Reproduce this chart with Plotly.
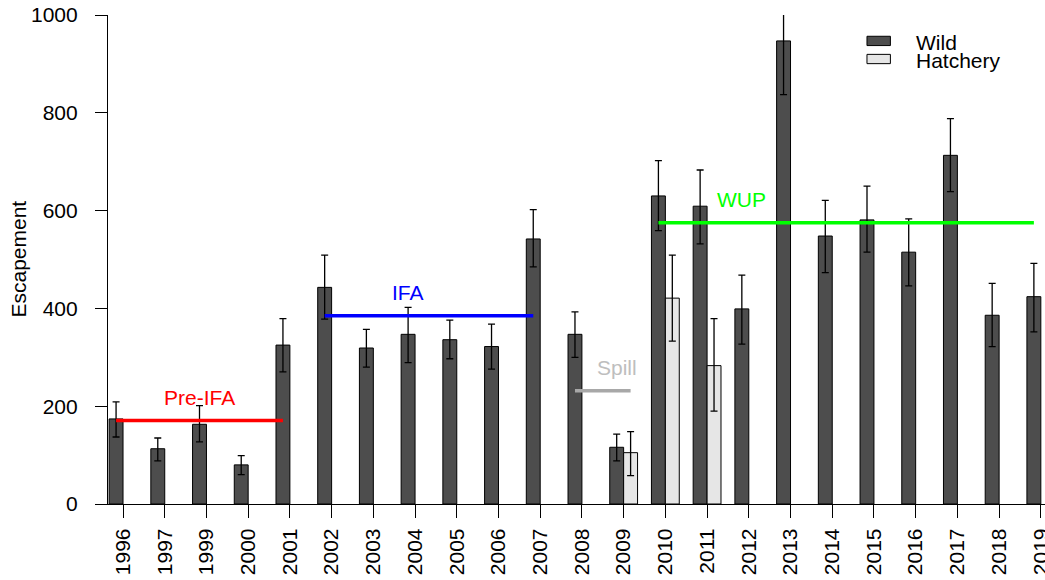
import plotly.graph_objects as go

# Escapement estimates by year (wild and hatchery-origin), with interval bounds
years = ["1996", "1997", "1999", "2000", "2001", "2002", "2003", "2004", "2005",
         "2006", "2007", "2008", "2009", "2010", "2011", "2012", "2013", "2014",
         "2015", "2016", "2017", "2018", "2019"]

wild = [174, 113, 163, 80, 325, 443, 319, 347, 336, 322, 542, 347, 116, 630,
        609, 399, 947, 548, 581, 515, 713, 386, 424]
wild_lo = [137, 88, 127, 60, 270, 378, 280, 289, 297, 276, 485, 300, 88, 559,
           532, 327, 837, 473, 515, 446, 639, 322, 352]
wild_hi = [209, 135, 201, 99, 379, 509, 357, 402, 376, 368, 602, 393, 143, 702,
           683, 468, 1057, 621, 650, 583, 788, 451, 492]

hatchery = [None] * 12 + [105, 421, 283] + [None] * 8
hatch_lo = [None] * 12 + [58, 333, 190] + [None] * 8
hatch_hi = [None] * 12 + [148, 509, 379] + [None] * 8

# Management periods: (label, first year, last year, line colour, label colour, label year)
periods = [
    ("Pre-IFA", "1996", "2001", "#ff0000", "#ff0000", "1999"),
    ("IFA", "2002", "2007", "#0000ff", "#0000ff", "2004"),
    ("Spill", "2008", "2009", "#a8a8a8", "#bebebe", "2009"),
    ("WUP", "2010", "2019", "#00ff00", "#00ff00", "2012"),
]

FONT = "Liberation Sans, Arial, sans-serif"
FS = 21
pos = list(range(len(years)))
half = 1 / 6  # offset of each bar centre from the group centre

fig = go.Figure()

fig.add_trace(go.Bar(
    x=pos, y=wild, name="Wild",
    marker=dict(color="#4d4d4d", line=dict(color="#000000", width=1)),
    error_y=dict(type="data", symmetric=False,
                 array=[h - v for h, v in zip(wild_hi, wild)],
                 arrayminus=[v - l for v, l in zip(wild, wild_lo)],
                 color="#000000", thickness=1.3, width=3.5),
))

fig.add_trace(go.Bar(
    x=pos, y=hatchery, name="Hatchery",
    marker=dict(color="#e6e6e6", line=dict(color="#000000", width=1)),
    error_y=dict(type="data", symmetric=False,
                 array=[None if v is None else h - v for h, v in zip(hatch_hi, hatchery)],
                 arrayminus=[None if v is None else v - l for v, l in zip(hatchery, hatch_lo)],
                 color="#000000", thickness=1.3, width=3.5),
))

annotations = []
for label, y0, y1, lcol, tcol, ylab in periods:
    i0, i1 = years.index(y0), years.index(y1)
    vals = wild[i0:i1 + 1]
    mean = sum(vals) / len(vals)
    x0 = i0 - half
    # the spill period line runs to the hatchery bar of its last year
    x1 = i1 + half if label == "Spill" else i1 - half
    fig.add_trace(go.Scatter(
        x=[x0, x1], y=[mean, mean], mode="lines",
        line=dict(color=lcol, width=3.5), showlegend=False, hoverinfo="skip",
    ))
    annotations.append(dict(
        x=years.index(ylab) - half, y=mean, xref="x", yref="y",
        text=label, showarrow=False, yshift=23,
        font=dict(family=FONT, size=FS, color=tcol),
        xanchor="center", yanchor="middle",
    ))

# y-axis title
annotations.append(dict(
    x=-0.096, y=0.5, xref="paper", yref="paper", text="Escapement",
    textangle=-90, showarrow=False, xanchor="center", yanchor="middle",
    font=dict(family=FONT, size=FS, color="#000000"),
))

# legend key
legend_items = [("Wild", "#4d4d4d", 0.947), ("Hatchery", "#e6e6e6", 0.910)]
shapes = []
for name, col, yc in legend_items:
    shapes.append(dict(
        type="rect", xref="paper", yref="paper",
        x0=0.810, x1=0.835, y0=yc - 0.0095, y1=yc + 0.0095,
        fillcolor=col, line=dict(color="#000000", width=1),
    ))
    annotations.append(dict(
        x=0.86, y=yc - 0.004, xref="paper", yref="paper", text=name,
        showarrow=False, xanchor="left", yanchor="middle",
        font=dict(family=FONT, size=FS, color="#000000"),
    ))

fig.update_layout(
    width=1045, height=580,
    margin=dict(l=108, r=0, t=15, b=76, autoexpand=False),
    paper_bgcolor="#ffffff", plot_bgcolor="#ffffff",
    barmode="group", bargap=1 / 3, bargroupgap=0,
    showlegend=False,
    annotations=annotations, shapes=shapes,
    font=dict(family=FONT, size=FS, color="#000000"),
    xaxis=dict(
        range=[-0.36, 22.1], tickmode="array", tickvals=pos, ticktext=years,
        tickangle=-90, ticks="outside", ticklen=13, tickcolor="#000000",
        tickwidth=1.2, showline=True, linecolor="#000000", linewidth=1.2,
        showgrid=False, zeroline=False, ticklabelstandoff=2,
        ticklabeloverflow="allow",
        tickfont=dict(family=FONT, size=FS, color="#000000"),
    ),
    yaxis=dict(
        range=[0, 1000], tickmode="array", tickvals=[0, 200, 400, 600, 800, 1000],
        ticks="outside", ticklen=12, tickcolor="#000000", tickwidth=1.2,
        showline=True, linecolor="#000000", linewidth=1.2,
        showgrid=False, zeroline=False, ticklabelstandoff=13,
        tickfont=dict(family=FONT, size=FS, color="#000000"),
    ),
)

fig.write_html("out.html")
